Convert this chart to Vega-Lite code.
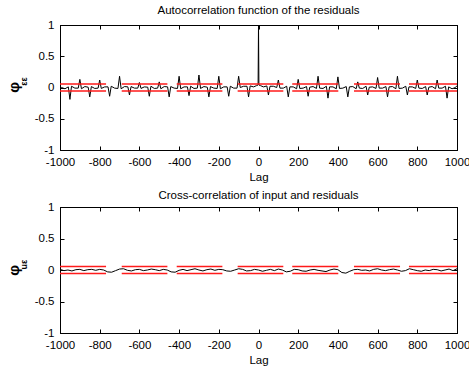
{
  "$schema": "https://vega.github.io/schema/vega-lite/v6.json",
  "padding": {"left": 5, "top": 4, "right": 5, "bottom": 0},
  "spacing": 5,
  "datasets": {
    "acf": [
      {"lag": -1000, "r": 0.02}, {"lag": -992, "r": 0.0}, {"lag": -975, "r": -0.02},
      {"lag": -958, "r": 0.01}, {"lag": -950, "r": -0.19}, {"lag": -942, "r": 0.02}, {"lag": -925, "r": -0.01},
      {"lag": -908, "r": -0.01}, {"lag": -900, "r": 0.13}, {"lag": -892, "r": -0.02}, {"lag": -875, "r": 0.015},
      {"lag": -858, "r": 0.005}, {"lag": -850, "r": -0.15}, {"lag": -842, "r": 0.015}, {"lag": -825, "r": -0.015},
      {"lag": -808, "r": -0.01}, {"lag": -800, "r": 0.12}, {"lag": -792, "r": -0.015}, {"lag": -775, "r": 0.01},
      {"lag": -758, "r": 0.01}, {"lag": -750, "r": -0.14}, {"lag": -742, "r": 0.02}, {"lag": -725, "r": -0.01},
      {"lag": -708, "r": -0.015}, {"lag": -700, "r": 0.18}, {"lag": -692, "r": -0.02}, {"lag": -675, "r": 0.015},
      {"lag": -658, "r": 0.01}, {"lag": -650, "r": -0.12}, {"lag": -642, "r": 0.015}, {"lag": -625, "r": -0.01},
      {"lag": -608, "r": -0.01}, {"lag": -600, "r": 0.08}, {"lag": -592, "r": -0.015}, {"lag": -575, "r": 0.01},
      {"lag": -558, "r": 0.005}, {"lag": -550, "r": -0.14}, {"lag": -542, "r": 0.02}, {"lag": -525, "r": -0.015},
      {"lag": -508, "r": -0.01}, {"lag": -500, "r": 0.09}, {"lag": -492, "r": -0.02}, {"lag": -475, "r": 0.015},
      {"lag": -458, "r": 0.01}, {"lag": -450, "r": -0.15}, {"lag": -442, "r": 0.015}, {"lag": -425, "r": -0.01},
      {"lag": -408, "r": -0.015}, {"lag": -400, "r": 0.18}, {"lag": -392, "r": -0.02}, {"lag": -375, "r": 0.01},
      {"lag": -358, "r": 0.01}, {"lag": -350, "r": -0.13}, {"lag": -342, "r": 0.02}, {"lag": -325, "r": -0.015},
      {"lag": -308, "r": -0.01}, {"lag": -300, "r": 0.2}, {"lag": -292, "r": -0.015}, {"lag": -275, "r": 0.015},
      {"lag": -258, "r": 0.005}, {"lag": -250, "r": -0.15}, {"lag": -242, "r": 0.015}, {"lag": -225, "r": -0.01},
      {"lag": -208, "r": -0.015}, {"lag": -200, "r": 0.18}, {"lag": -192, "r": -0.02}, {"lag": -175, "r": 0.01},
      {"lag": -158, "r": 0.01}, {"lag": -150, "r": -0.14}, {"lag": -142, "r": 0.02}, {"lag": -125, "r": -0.01},
      {"lag": -108, "r": -0.01}, {"lag": -100, "r": 0.18}, {"lag": -92, "r": 0.0}, {"lag": -75, "r": 0.02},
      {"lag": -58, "r": 0.02}, {"lag": -50, "r": -0.15}, {"lag": -42, "r": 0.025}, {"lag": -25, "r": 0.01},
      {"lag": -10, "r": 0.03}, {"lag": -2, "r": 0.04}, {"lag": 0, "r": 1.0}, {"lag": 2, "r": 0.04}, {"lag": 10, "r": 0.03}, {"lag": 25, "r": 0.01},
      {"lag": 42, "r": 0.025}, {"lag": 50, "r": -0.12}, {"lag": 58, "r": 0.02}, {"lag": 75, "r": 0.02},
      {"lag": 92, "r": 0.0}, {"lag": 100, "r": 0.12}, {"lag": 108, "r": -0.01}, {"lag": 125, "r": -0.01},
      {"lag": 142, "r": 0.02}, {"lag": 150, "r": -0.15}, {"lag": 158, "r": 0.01}, {"lag": 175, "r": 0.01},
      {"lag": 192, "r": -0.02}, {"lag": 200, "r": 0.13}, {"lag": 208, "r": -0.015}, {"lag": 225, "r": -0.01},
      {"lag": 242, "r": 0.015}, {"lag": 250, "r": -0.14}, {"lag": 258, "r": 0.005}, {"lag": 275, "r": 0.015},
      {"lag": 292, "r": -0.015}, {"lag": 300, "r": 0.18}, {"lag": 308, "r": -0.01}, {"lag": 325, "r": -0.015},
      {"lag": 342, "r": 0.02}, {"lag": 350, "r": -0.17}, {"lag": 358, "r": 0.01}, {"lag": 375, "r": 0.01},
      {"lag": 392, "r": -0.02}, {"lag": 400, "r": 0.17}, {"lag": 408, "r": -0.015}, {"lag": 425, "r": -0.01},
      {"lag": 442, "r": 0.015}, {"lag": 450, "r": -0.15}, {"lag": 458, "r": 0.01}, {"lag": 475, "r": 0.015},
      {"lag": 492, "r": -0.02}, {"lag": 500, "r": 0.09}, {"lag": 508, "r": -0.01}, {"lag": 525, "r": -0.015},
      {"lag": 542, "r": 0.02}, {"lag": 550, "r": -0.12}, {"lag": 558, "r": 0.005}, {"lag": 575, "r": 0.01},
      {"lag": 592, "r": -0.015}, {"lag": 600, "r": 0.16}, {"lag": 608, "r": -0.01}, {"lag": 625, "r": -0.01},
      {"lag": 642, "r": 0.015}, {"lag": 650, "r": -0.15}, {"lag": 658, "r": 0.01}, {"lag": 675, "r": 0.015},
      {"lag": 692, "r": -0.02}, {"lag": 700, "r": 0.18}, {"lag": 708, "r": -0.015}, {"lag": 725, "r": -0.01},
      {"lag": 742, "r": 0.02}, {"lag": 750, "r": -0.12}, {"lag": 758, "r": 0.01}, {"lag": 775, "r": 0.01},
      {"lag": 792, "r": -0.015}, {"lag": 800, "r": 0.12}, {"lag": 808, "r": -0.01}, {"lag": 825, "r": -0.015},
      {"lag": 842, "r": 0.015}, {"lag": 850, "r": -0.12}, {"lag": 858, "r": 0.005}, {"lag": 875, "r": 0.015},
      {"lag": 892, "r": -0.02}, {"lag": 900, "r": 0.12}, {"lag": 908, "r": -0.01}, {"lag": 925, "r": -0.01},
      {"lag": 942, "r": 0.02}, {"lag": 950, "r": -0.17}, {"lag": 958, "r": 0.01}, {"lag": 975, "r": -0.02},
      {"lag": 992, "r": 0.0}, {"lag": 1000, "r": 0.03}
    ],
    "xc": [
      {"lag": -1000, "r": 0.01}, {"lag": -980, "r": -0.01}, {"lag": -960, "r": 0.0}, {"lag": -940, "r": -0.015},
      {"lag": -920, "r": 0.005}, {"lag": -900, "r": 0.01}, {"lag": -880, "r": -0.01}, {"lag": -860, "r": 0.005},
      {"lag": -840, "r": 0.01}, {"lag": -820, "r": -0.005}, {"lag": -800, "r": 0.01}, {"lag": -780, "r": 0.0},
      {"lag": -760, "r": -0.03}, {"lag": -740, "r": -0.035}, {"lag": -720, "r": -0.01}, {"lag": -700, "r": 0.015},
      {"lag": -680, "r": 0.02}, {"lag": -660, "r": -0.005}, {"lag": -640, "r": -0.015}, {"lag": -620, "r": 0.005},
      {"lag": -600, "r": 0.01}, {"lag": -580, "r": -0.01}, {"lag": -560, "r": 0.0}, {"lag": -540, "r": 0.015},
      {"lag": -520, "r": 0.005}, {"lag": -500, "r": -0.01}, {"lag": -480, "r": 0.01}, {"lag": -460, "r": 0.0},
      {"lag": -440, "r": -0.03}, {"lag": -420, "r": -0.035}, {"lag": -400, "r": -0.005}, {"lag": -380, "r": 0.01},
      {"lag": -360, "r": -0.01}, {"lag": -340, "r": 0.005}, {"lag": -320, "r": 0.02}, {"lag": -300, "r": 0.0},
      {"lag": -280, "r": -0.015}, {"lag": -260, "r": 0.005}, {"lag": -240, "r": 0.015}, {"lag": -220, "r": -0.005},
      {"lag": -200, "r": 0.01}, {"lag": -180, "r": 0.005}, {"lag": -160, "r": -0.015}, {"lag": -140, "r": -0.02},
      {"lag": -120, "r": 0.0}, {"lag": -100, "r": 0.02}, {"lag": -80, "r": 0.01}, {"lag": -60, "r": -0.015},
      {"lag": -40, "r": -0.01}, {"lag": -20, "r": 0.01}, {"lag": 0, "r": 0.0}, {"lag": 20, "r": -0.02},
      {"lag": 40, "r": -0.005}, {"lag": 60, "r": 0.01}, {"lag": 80, "r": -0.01}, {"lag": 100, "r": 0.015},
      {"lag": 120, "r": 0.0}, {"lag": 140, "r": -0.03}, {"lag": 160, "r": -0.02}, {"lag": 180, "r": 0.01},
      {"lag": 200, "r": 0.005}, {"lag": 220, "r": -0.015}, {"lag": 240, "r": -0.02}, {"lag": 260, "r": 0.0},
      {"lag": 280, "r": 0.01}, {"lag": 300, "r": -0.005}, {"lag": 320, "r": -0.015}, {"lag": 340, "r": -0.025},
      {"lag": 360, "r": 0.0}, {"lag": 380, "r": 0.015}, {"lag": 400, "r": 0.005}, {"lag": 420, "r": -0.04},
      {"lag": 440, "r": -0.05}, {"lag": 460, "r": -0.02}, {"lag": 480, "r": 0.005}, {"lag": 500, "r": 0.01},
      {"lag": 520, "r": -0.005}, {"lag": 540, "r": 0.0}, {"lag": 560, "r": -0.015}, {"lag": 580, "r": 0.01},
      {"lag": 600, "r": 0.02}, {"lag": 620, "r": 0.0}, {"lag": 640, "r": -0.01}, {"lag": 660, "r": 0.005},
      {"lag": 680, "r": 0.015}, {"lag": 700, "r": 0.0}, {"lag": 720, "r": -0.02}, {"lag": 740, "r": -0.01},
      {"lag": 760, "r": 0.02}, {"lag": 780, "r": 0.005}, {"lag": 800, "r": -0.01}, {"lag": 820, "r": -0.02},
      {"lag": 840, "r": 0.0}, {"lag": 860, "r": -0.01}, {"lag": 880, "r": 0.01}, {"lag": 900, "r": 0.005},
      {"lag": 920, "r": -0.015}, {"lag": 940, "r": 0.0}, {"lag": 960, "r": 0.015}, {"lag": 980, "r": -0.01},
      {"lag": 1000, "r": 0.02}
    ],
    "upper": [
      {"s": -1000, "e": -768, "b": 0.055}, {"s": -689, "e": -459, "b": 0.055}, {"s": -412, "e": -182, "b": 0.055},
      {"s": -105, "e": 125, "b": 0.055}, {"s": 170, "e": 402, "b": 0.055}, {"s": 481, "e": 713, "b": 0.055},
      {"s": 758, "e": 1000, "b": 0.055}
    ],
    "lower": [
      {"s": -1000, "e": -768, "b": -0.055}, {"s": -689, "e": -459, "b": -0.055}, {"s": -412, "e": -182, "b": -0.055},
      {"s": -105, "e": 125, "b": -0.055}, {"s": 170, "e": 402, "b": -0.055}, {"s": 481, "e": 713, "b": -0.055},
      {"s": 758, "e": 1000, "b": -0.055}
    ]
  },
  "vconcat": [
    {
      "title": "Autocorrelation function of the residuals",
      "width": 397,
      "height": 125,
      "layer": [
        {
          "data": {"name": "acf"},
          "mark": {"type": "line", "color": "black", "strokeWidth": 1},
          "encoding": {
            "x": {"field": "lag", "type": "quantitative", "scale": {"domain": [-1000, 1000], "nice": false},
                  "axis": {"orient": "bottom", "title": "Lag", "values": [-1000, -800, -600, -400, -200, 0, 200, 400, 600, 800, 1000]}},
            "y": {"field": "r", "type": "quantitative", "scale": {"domain": [-1, 1], "nice": false},
                  "axis": {"orient": "left", "title": "φ", "values": [-1, -0.5, 0, 0.5, 1], "titleFontSize": 15, "titleFontWeight": "bold", "titleX": -47, "titleY": 62, "titleAngle": -90, "titleAlign": "center", "titleBaseline": "middle"}}
          }
        },
        {
          "data": {"name": "upper"},
          "mark": {"type": "rule", "color": "#ff1a1a", "strokeWidth": 1.4},
          "encoding": {
            "x": {"field": "s", "type": "quantitative", "axis": {"orient": "top", "labels": false, "title": null, "values": [-1000, -800, -600, -400, -200, 0, 200, 400, 600, 800, 1000]}},
            "x2": {"field": "e"},
            "y": {"field": "b", "type": "quantitative", "axis": {"orient": "right", "labels": false, "title": null, "values": [-1, -0.5, 0, 0.5, 1]}}
          }
        },
        {
          "data": {"name": "lower"},
          "mark": {"type": "rule", "color": "#ff1a1a", "strokeWidth": 1.4},
          "encoding": {
            "x": {"field": "s", "type": "quantitative", "axis": null},
            "x2": {"field": "e"},
            "y": {"field": "b", "type": "quantitative", "axis": {"orient": "left", "labels": false, "ticks": false, "domain": false, "title": "εε", "titleFontSize": 9, "titleFontWeight": "bold", "titleX": -37, "titleY": 56, "titleAngle": -90, "titleAlign": "center", "titleBaseline": "middle"}}
          }
        }
      ],
      "resolve": {"axis": {"x": "independent", "y": "independent"}}
    },
    {
      "title": {"text": "Cross-correlation of input and residuals", "offset": 0},
      "width": 397,
      "height": 126,
      "layer": [
        {
          "data": {"name": "xc"},
          "mark": {"type": "line", "color": "black", "strokeWidth": 1},
          "encoding": {
            "x": {"field": "lag", "type": "quantitative", "scale": {"domain": [-1000, 1000], "nice": false},
                  "axis": {"orient": "bottom", "title": "Lag", "values": [-1000, -800, -600, -400, -200, 0, 200, 400, 600, 800, 1000]}},
            "y": {"field": "r", "type": "quantitative", "scale": {"domain": [-1, 1], "nice": false},
                  "axis": {"orient": "left", "title": "φ", "values": [-1, -0.5, 0, 0.5, 1], "titleFontSize": 15, "titleFontWeight": "bold", "titleX": -47, "titleY": 63, "titleAngle": -90, "titleAlign": "center", "titleBaseline": "middle"}}
          }
        },
        {
          "data": {"name": "upper"},
          "mark": {"type": "rule", "color": "#ff1a1a", "strokeWidth": 1.4},
          "encoding": {
            "x": {"field": "s", "type": "quantitative", "axis": {"orient": "top", "labels": false, "title": null, "values": [-1000, -800, -600, -400, -200, 0, 200, 400, 600, 800, 1000]}},
            "x2": {"field": "e"},
            "y": {"field": "b", "type": "quantitative", "axis": {"orient": "right", "labels": false, "title": null, "values": [-1, -0.5, 0, 0.5, 1]}}
          }
        },
        {
          "data": {"name": "lower"},
          "mark": {"type": "rule", "color": "#ff1a1a", "strokeWidth": 1.4},
          "encoding": {
            "x": {"field": "s", "type": "quantitative", "axis": null},
            "x2": {"field": "e"},
            "y": {"field": "b", "type": "quantitative", "axis": {"orient": "left", "labels": false, "ticks": false, "domain": false, "title": "uε", "titleFontSize": 9, "titleFontWeight": "bold", "titleX": -37, "titleY": 57, "titleAngle": -90, "titleAlign": "center", "titleBaseline": "middle"}}
          }
        }
      ],
      "resolve": {"axis": {"x": "independent", "y": "independent"}}
    }
  ],
  "config": {
    "font": "Liberation Sans",
    "view": {"stroke": "black", "strokeWidth": 1},
    "title": {"fontSize": 11.5, "fontWeight": "normal", "color": "black", "offset": 3},
    "axis": {
      "domainColor": "black",
      "tickColor": "black",
      "tickSize": -4,
      "labelPadding": 10,
      "labelFontSize": 11.5,
      "labelColor": "black",
      "labelExpr": "'' + datum.value",
      "labelFlush": false,
      "labelOverlap": false,
      "titleFontSize": 11.5,
      "titleFontWeight": "normal",
      "titleColor": "black",
      "titlePadding": 4,
      "grid": false
    }
  }
}
